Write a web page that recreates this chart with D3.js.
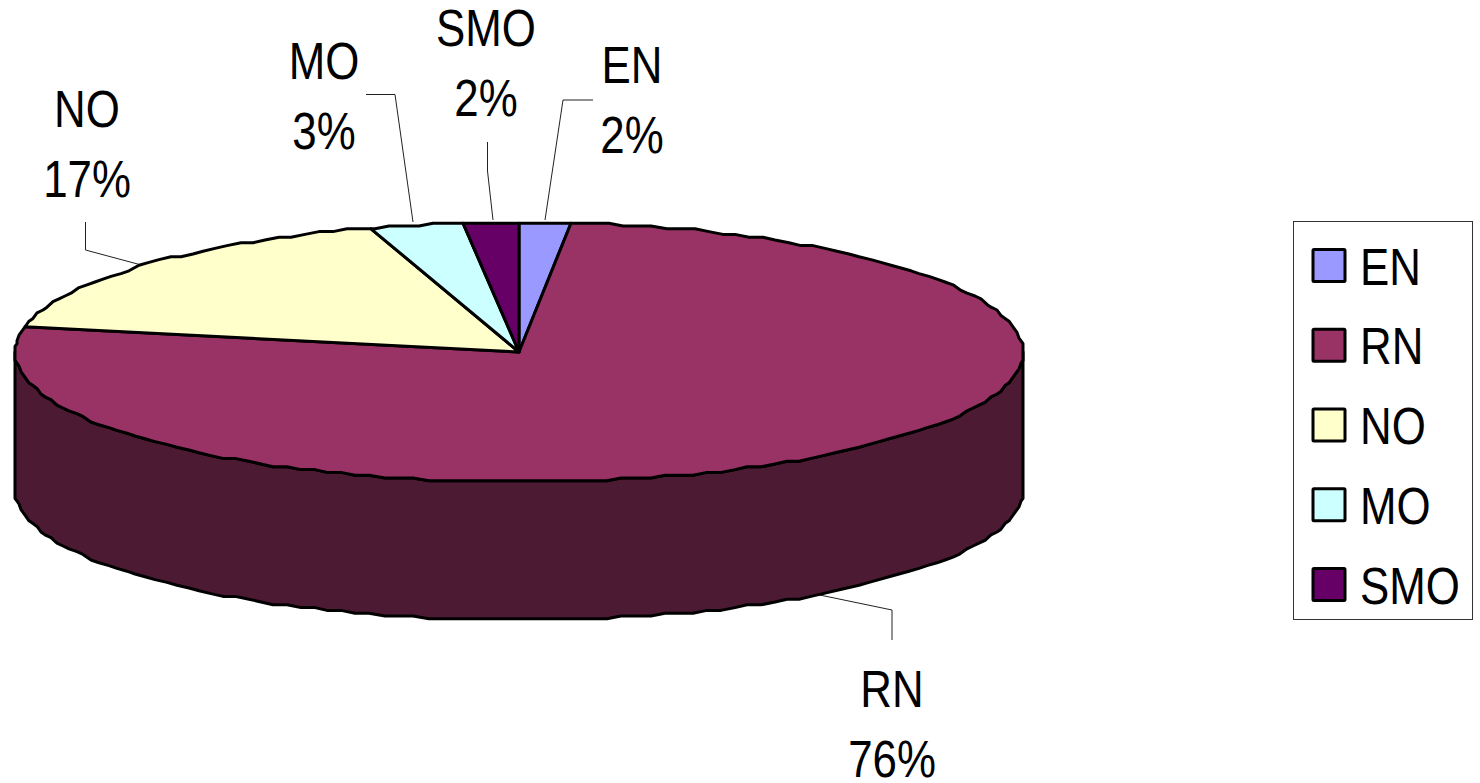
<!DOCTYPE html>
<html><head><meta charset="utf-8">
<script src="https://cdn.jsdelivr.net/npm/d3@7"></script>
<style>html,body{margin:0;padding:0;background:#fff}svg{display:block}text{font-family:"Liberation Sans",Arial,sans-serif;font-size:51px;fill:#000}</style>
</head><body><svg id="c" width="1480" height="783"></svg>
<script>
const categories = ["EN","RN","NO","MO","SMO"];
// Percent of the total; the data labels show these rounded to whole numbers.
const sliceValues = [1.65,76.49,17.1,3.0,1.76];
const fills = ["#9999ff","#993366","#ffffcc","#ccffff","#660066"];
const sideFill = "#4d1a33";
const labelX = [632,892,87,324,486];
const labelBaseline = [83,707,127,79,46];
const leaders = [
  [[545,220],[563,100],[593,100]],
  [[815,594],[892,610],[892,640]],
  [[145,266],[85.5,250],[85.5,222]],
  [[413,222],[395,94.5],[366,94.5]],
  [[493,220],[487.5,171],[487.5,142]]
];

const svg = d3.select("#c");
const cx = 519, cy = 352, rx = 504, ry = 130, depth = 138;
const lineGap = 69.5, textScale = 0.86;
const pie = d3.pie().sort(null).value(d => d);
const arcs = pie(sliceValues);
const line = d3.line();

// The outline is stepped: vertices sit on a coarse raster, as in low-resolution chart output.
const stepY = 2.8, stepX = 2, stepAngle = 1.7*Math.PI/180;
const pt = a => [
  cx + Math.round(rx*Math.sin(a)/stepX)*stepX,
  cy + Math.round(-ry*Math.cos(a)/stepY)*stepY
];
const outline = (a0,a1) => {
  const inner = d3.range(Math.ceil(a0/stepAngle), Math.floor(a1/stepAngle)+1).map(k => k*stepAngle)
    .filter(a => a-a0 > 0.005 && a1-a > 0.005);
  return [a0,...inner,a1].map(pt);
};

// Drawn text is condensed horizontally to the chart's narrow sans-serif proportions.
const label = (sel,x,y,t,anchor) => sel.append("text")
  .attr("transform",`translate(${x},${y}) scale(${textScale},1)`)
  .attr("text-anchor",anchor).text(t);

// Leader lines sit under the pie
svg.selectAll("path.leader").data(leaders).join("path").attr("class","leader")
  .attr("d", d=>line(d)).attr("fill","none").attr("stroke","#222").attr("stroke-width",1);

// Rim of the extruded disc
const front = outline(Math.PI/2, 3*Math.PI/2);
const rim = front.concat(front.slice().reverse().map(p => [p[0],p[1]+depth]));
svg.append("path").attr("d", line(rim)+"Z").attr("fill",sideFill)
  .attr("stroke","#000").attr("stroke-width",3).attr("stroke-linejoin","round");

// Top faces
svg.selectAll("path.slice").data(arcs).join("path").attr("class","slice")
  .attr("d", d => line([[cx,cy],...outline(d.startAngle,d.endAngle)])+"Z")
  .attr("fill",(d,i)=>fills[i]).attr("stroke","#000").attr("stroke-width",3).attr("stroke-linejoin","round");

// Two-line data labels
categories.forEach((c,i)=>{
  label(svg,labelX[i],labelBaseline[i],c,"middle");
  label(svg,labelX[i],labelBaseline[i]+lineGap,Math.round(sliceValues[i])+"%","middle");
});

// Legend
svg.append("rect").attr("x",1293.5).attr("y",221.5).attr("width",179).attr("height",398)
  .attr("fill","#fff").attr("stroke","#333").attr("stroke-width",1);
const ly = d3.scalePoint().domain(categories).range([266,585]);
categories.forEach((c,i)=>{
  svg.append("rect").attr("x",1313).attr("y",ly(c)-16.5).attr("width",32).attr("height",32)
    .attr("fill",fills[i]).attr("stroke","#000").attr("stroke-width",3).attr("rx",1);
  label(svg,1360,ly(c)+18.5,c,"start");
});
</script></body></html>
